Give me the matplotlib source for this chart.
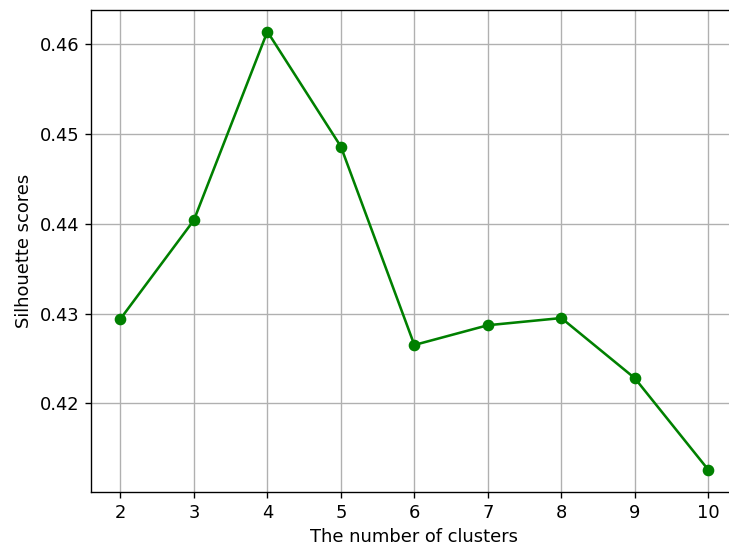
import matplotlib
matplotlib.use("Agg")
import matplotlib.pyplot as plt

clusters = [2, 3, 4, 5, 6, 7, 8, 9, 10]
scores = [0.4294, 0.4404, 0.4614, 0.4486, 0.4265, 0.4287, 0.4295, 0.4228, 0.4126]

s = 1.23
fs = 1.29
plt.rcParams.update({
    'font.size': 10 * fs,
    'lines.linewidth': 1.5 * s,
    'lines.markersize': 6 * s,
    'axes.linewidth': 0.8 * s,
    'grid.linewidth': 0.8 * s,
    'xtick.major.size': 3.5 * s,
    'ytick.major.size': 3.5 * s,
    'xtick.major.width': 0.8 * s,
    'ytick.major.width': 0.8 * s,
    'xtick.major.pad': 3.5 * s,
    'ytick.major.pad': 3.5 * s,
    'axes.labelpad': 4 * s,
})

fig = plt.figure(figsize=(7.29, 5.49), dpi=100)
left, right, top, bottom = 91.0, 737.7, 9.7, 491.7
ax = fig.add_axes([left/729, 1-bottom/549, (right-left)/729, (bottom-top)/549])
ax.plot(clusters, scores, 'o-', color='green')
ax.set_xlabel('The number of clusters')
ax.set_ylabel('Silhouette scores')
ax.set_xticks(clusters)
ax.set_yticks([0.42, 0.43, 0.44, 0.45, 0.46])
ax.grid(True)
fig.savefig('out.png', dpi=100)
